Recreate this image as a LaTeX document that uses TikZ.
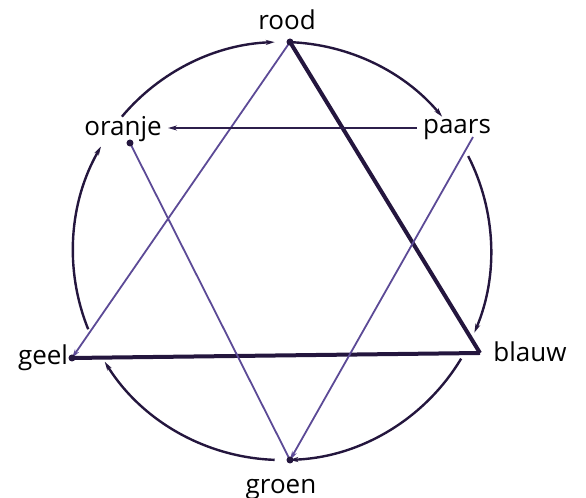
\documentclass[tikz,border=0pt]{standalone}
\usepackage{fontspec}
\setmainfont{Open Sans}
\usetikzlibrary{arrows.meta,calc}
\definecolor{kleurdonker}{RGB}{36,22,62}
\definecolor{kleurlijn}{RGB}{92,74,150}
\tikzset{
  naam/.style={font=\fontsize{13}{15}\selectfont, text=black, inner sep=0pt},
  cirkel/.style={line width=1.2pt, draw=kleurdonker},
  lijnD/.style={line width=2pt, draw=kleurdonker},
  lijnP/.style={line width=0.9pt, draw=kleurlijn},
  lijnM/.style={line width=1.2pt, draw=kleurdonker!85!kleurlijn},
  pijl/.style={-{Stealth[length=4.5pt,width=2.5pt]}},
  punt/.style={circle, fill=kleurdonker, inner sep=0pt, minimum size=3.5pt}
}
\begin{document}
\begin{tikzpicture}[x=0.5pt, y=0.5pt]
  \useasboundingbox (0,0) rectangle (586,498);

  % hoekpunten
  \coordinate (midden) at (282,247);
  \coordinate (rood)   at (290,456);
  \coordinate (geel)   at (72,140);
  \coordinate (blauw)  at (480,145);
  \coordinate (groen)  at (290,38);
  \coordinate (oranje) at (130,355);
  \coordinate (paars)  at (473,361);
  \coordinate (paarsL) at (417,370);
  \coordinate (oranjeR) at (168,370);

  % namen
  \node[naam, anchor=base] (tRood)   at (287,468) {rood};
  \node[naam, anchor=base] (tOranje) at (123,362) {oranje};
  \node[naam, anchor=base] (tPaars)  at (457,364) {paars};
  \node[naam, anchor=base] (tGeel)   at (43,133)  {geel};
  \node[naam, anchor=base] (tBlauw)  at (530,136) {blauw};
  \node[naam, anchor=base] (tGroen)  at (281,4)   {groen};

  % kleurencirkel
  \foreach \a/\b in {140/92, 88/40, 27/-23, -31/-88, -92/-148, -158/-210}
    \draw[cirkel, pijl] ([shift={(\a:209)}]midden) arc[start angle=\a, end angle=\b, radius=209];

  % driehoeken
  \draw[lijnD] (rood) -- (blauw);
  \draw[lijnD] (blauw) -- (geel);
  \draw[lijnP, pijl] (rood) -- (geel);
  \draw[lijnP] (oranje) -- (groen);
  \draw[lijnP, pijl] (paars) -- (groen);
  \draw[lijnM, pijl] (paarsL) -- (oranjeR);

  \node[punt] at (rood) {};
  \node[punt] at (geel) {};
  \node[punt] at (groen) {};
  \node[punt] at (oranje) {};
\end{tikzpicture}
\end{document}
